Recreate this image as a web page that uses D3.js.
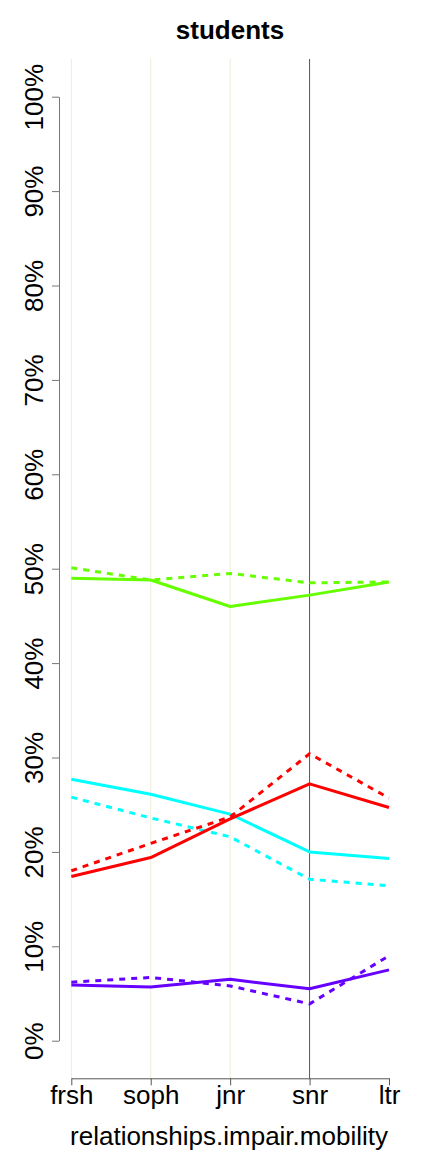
<!DOCTYPE html>
<html><head><meta charset="utf-8">
<script src="https://cdn.jsdelivr.net/npm/d3@7"></script>
<style>
html,body{margin:0;padding:0;background:#fff;}
svg{display:block;font-family:"Liberation Sans",Arial,sans-serif;}
</style></head>
<body>
<svg id="chart" width="432" height="1152"></svg>
<script>
const categories = ["frsh","soph","jnr","snr","ltr"];
const yTicks = [0,10,20,30,40,50,60,70,80,90,100];
const greenSolid  = [49.0, 48.8, 46.0, 47.2, 48.6];
const greenDashed = [50.1, 48.8, 49.5, 48.5, 48.6];
const cyanSolid   = [27.7, 26.1, 24.0, 20.0, 19.3];
const cyanDashed  = [25.8, 23.6, 21.6, 17.1, 16.4];
const redSolid    = [17.4, 19.4, 23.5, 27.2, 24.7];
const redDashed   = [18.0, 20.9, 23.7, 30.4, 25.7];
const purpleSolid = [5.9, 5.7, 6.5, 5.5, 7.5];
const purpleDashed= [6.2, 6.7, 5.8, 3.9, 9.0];
const series = [
  {values: greenSolid, color: "#66ff00", dashed: false},
  {values: greenDashed, color: "#66ff00", dashed: true},
  {values: cyanSolid, color: "#00ffff", dashed: false},
  {values: cyanDashed, color: "#00ffff", dashed: true},
  {values: redSolid, color: "#ff0000", dashed: false},
  {values: redDashed, color: "#ff0000", dashed: true},
  {values: purpleSolid, color: "#6600ff", dashed: false},
  {values: purpleDashed, color: "#6600ff", dashed: true}
];

const svg = d3.select("#chart");
const x = d3.scalePoint().domain(categories).range([71.3, 389]);
const y = d3.scaleLinear().domain([0, 100]).range([1040.7, 96.7]);

// grid lines
svg.append("g").selectAll("line").data(categories.slice(0,4)).join("line")
  .attr("x1", d => x(d)).attr("x2", d => x(d))
  .attr("y1", 59).attr("y2", 1078.3)
  .attr("stroke", d => d === "snr" ? "#555" : "#efeddc")
  .attr("stroke-width", 1);

// title
svg.append("text").attr("x", 230).attr("y", 39).attr("text-anchor", "middle")
  .attr("font-size", 26).attr("font-weight", "bold").text("students");

// y axis
const yAxis = svg.append("g").attr("transform", "translate(59,0)")
  .call(d3.axisLeft(y).tickValues(yTicks).tickFormat(d => d + "%").tickSize(7).tickSizeOuter(0));
yAxis.select(".domain").attr("stroke", "#777");
yAxis.selectAll(".tick line").attr("stroke", "#777");
yAxis.selectAll(".tick text").attr("font-size", 26).attr("fill", "#000")
  .attr("font-family", "Liberation Sans, Arial, sans-serif")
  .attr("transform", "rotate(-90)").attr("text-anchor", "middle")
  .attr("x", 0).attr("y", -16).attr("dy", 0);

// x axis
const xAxis = svg.append("g").attr("transform", "translate(0,1078.3)")
  .call(d3.axisBottom(x).tickSize(7).tickSizeOuter(0));
xAxis.select(".domain").attr("stroke", "#555");
xAxis.selectAll(".tick line").attr("stroke", "#555");
xAxis.selectAll(".tick text").attr("font-size", 26).attr("fill", "#000")
  .attr("font-family", "Liberation Sans, Arial, sans-serif")
  .attr("y", 26).attr("dy", 0);

svg.append("text").attr("x", 229).attr("y", 1145).attr("text-anchor", "middle")
  .attr("font-size", 26).text("relationships.impair.mobility");

// lines
const line = d3.line().x((d, i) => x(categories[i])).y(d => y(d));
svg.append("g").selectAll("path").data(series).join("path")
  .attr("d", d => line(d.values))
  .attr("fill", "none")
  .attr("stroke", d => d.color)
  .attr("stroke-width", 3)
  .attr("stroke-linejoin", "round")
  .attr("stroke-dasharray", d => d.dashed ? "6,6" : null);
</script>
</body></html>
